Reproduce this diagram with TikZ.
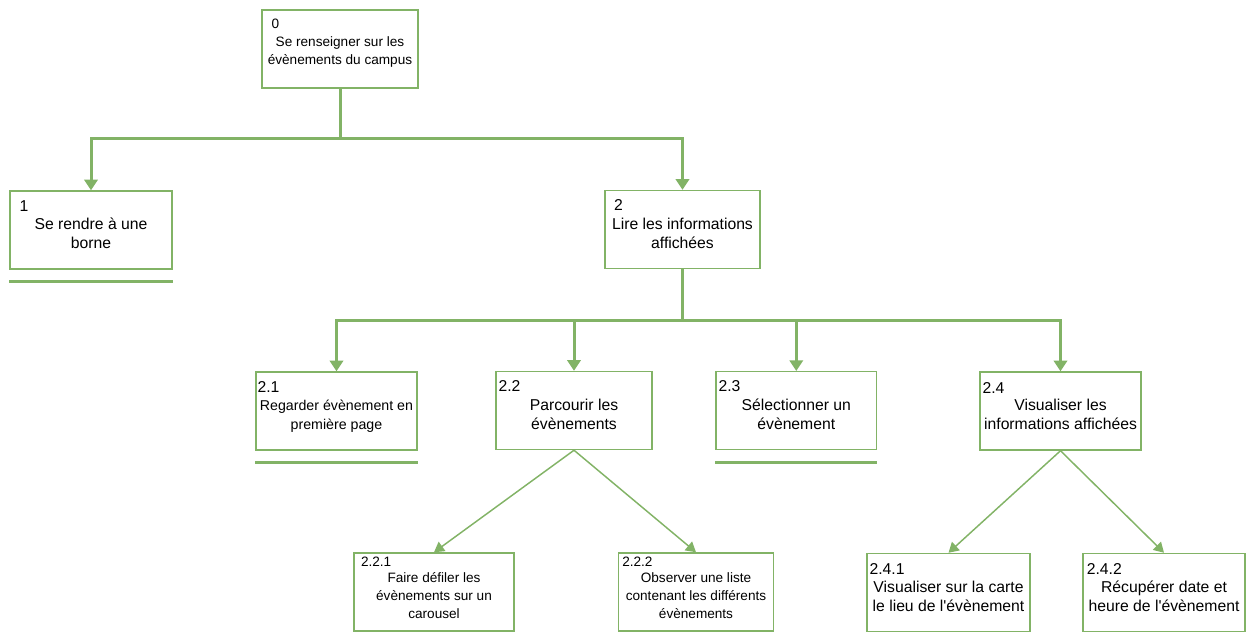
\documentclass[tikz,border=0pt]{standalone}
\usepackage{fontspec}
\setmainfont{Liberation Sans}
\usetikzlibrary{arrows.meta}
\definecolor{boxgreen}{HTML}{82B366}
\def\bigtext{\fontsize{11.8}{14.25}\selectfont}
\def\midtext{\fontsize{10.65}{14.25}\selectfont}
\def\smalltext{\fontsize{10.2}{13.5}\selectfont}
\def\drop{50}

\begin{document}
\begin{tikzpicture}[
    x=0.75pt, y=-0.75pt,
    box/.style={
      draw=boxgreen, line width=1.1pt,
      minimum height=58.5pt, inner sep=0pt
    },
    txt/.style={align=center, inner sep=0pt, yshift=-2.6pt},
    num/.style={anchor=north west, inner sep=0pt},
    trunk/.style={draw=boxgreen, line width=2.25pt},
    arrowtip/.style={
      -{Triangle[width=10pt,length=8pt]}
    },
    diag/.style={
      draw=boxgreen, line width=1.1pt,
      -{Triangle[width=8.5pt,length=7.5pt]}
    }
  ]
    \useasboundingbox (0,0) rectangle (1252,641);

    % boxes
    \node[box, minimum width=117pt] (b0) at (340,49) {};
    \node[box, minimum width=121.5pt] (b1) at (91,230) {};
    \node[box, minimum width=116.25pt] (b2) at (682.5,229.5) {};
    \node[box, minimum width=120.75pt] (b21) at (336.5,411) {};
    \node[box, minimum width=117pt] (b22) at (574,410.5) {};
    \node[box, minimum width=120.5pt] (b23) at (796.3,410.7) {};
    \node[box, minimum width=120.75pt] (b24) at (1060.5,411) {};
    \node[box, minimum width=120pt] (b221) at (434,592) {};
    \node[box, minimum width=116.25pt] (b222) at (696,592) {};
    \node[box, minimum width=122.25pt] (b241) at (948.5,592.5) {};
    \node[box, minimum width=121.5pt] (b242) at (1164,592.5) {};

    % texts
    \node[txt, font=\smalltext] (t0) at (b0) {Se renseigner sur les\\évènements du campus};
    \node[txt, font=\bigtext] (t1) at (b1) {Se rendre à une\\borne};
    \node[txt, font=\bigtext] (t2) at (b2) {Lire les informations\\affichées};
    \node[txt, font=\midtext, yshift=-1pt] (t21) at (b21) {Regarder évènement en\\première page};
    \node[txt, font=\bigtext] (t22) at (b22) {Parcourir les\\évènements};
    \node[txt, font=\bigtext] (t23) at (b23) {Sélectionner un\\évènement};
    \node[txt, font=\bigtext] (t24) at (b24) {Visualiser les\\informations affichées};
    \node[txt, font=\smalltext] (t221) at (b221) {Faire défiler les\\évènements sur un\\carousel};
    \node[txt, font=\smalltext] (t222) at (b222) {Observer une liste\\contenant les différents\\évènements};
    \node[txt, font=\bigtext] (t241) at (b241) {Visualiser sur la carte\\le lieu de l\textquotesingle évènement};
    \node[txt, font=\bigtext] (t242) at (b242) {Récupérer date et\\heure de l\textquotesingle évènement};

    % numbers
    \node[num, font=\smalltext, xshift=7.5pt, yshift=-6.75pt] (n0) at (b0.north west) {0};
    \node[num, font=\bigtext, xshift=7.5pt, yshift=-7.3pt] (n1) at (b1.north west) {1};
    \node[num, font=\bigtext, xshift=7.1pt, yshift=-6.75pt] (n2) at (b2.north west) {2};
    \node[num, font=\bigtext, xshift=1.5pt, yshift=-7.3pt] (n21) at (b21.north west) {2.1};
    \node[num, font=\bigtext, xshift=2.3pt, yshift=-7.1pt] (n22) at (b22.north west) {2.2};
    \node[num, font=\bigtext, xshift=2.3pt, yshift=-7.3pt] (n23) at (b23.north west) {2.3};
    \node[num, font=\bigtext, xshift=2.3pt, yshift=-7.9pt] (n24) at (b24.north west) {2.4};
    \node[num, font=\smalltext, xshift=5.6pt, yshift=-3.4pt] (n221) at (b221.north west) {2.2.1};
    \node[num, font=\smalltext, xshift=3.2pt, yshift=-3.4pt] (n222) at (b222.north west) {2.2.2};
    \node[num, font=\bigtext, xshift=2.3pt, yshift=-7.7pt] (n241) at (b241.north west) {2.4.1};
    \node[num, font=\bigtext, xshift=3.2pt, yshift=-7.7pt] (n242) at (b242.north west) {2.4.2};

    % first level
    \foreach \b in {b1,b2} {
      \draw[trunk, arrowtip] (b0.south) -- ++(0,\drop) -| (\b.north);
    }

    % second level
    \foreach \b in {b21,b22,b23,b24} {
      \draw[trunk, arrowtip] (b2.south) -- ++(0,\drop+1.5) -| (\b.north);
    }

    % third level
    \foreach \b in {b221,b222} {
      \draw[diag] (b22.south) -- (\b.north);
    }
    \foreach \b in {b241,b242} {
      \draw[diag] (b24.south) -- (\b.north);
    }

    % underlined boxes
    \foreach \b in {b1,b21,b23} {
      \draw[trunk] ([yshift=-9pt]\b.south west) -- ([yshift=-9pt]\b.south east);
    }
  \end{tikzpicture}
\end{document}
